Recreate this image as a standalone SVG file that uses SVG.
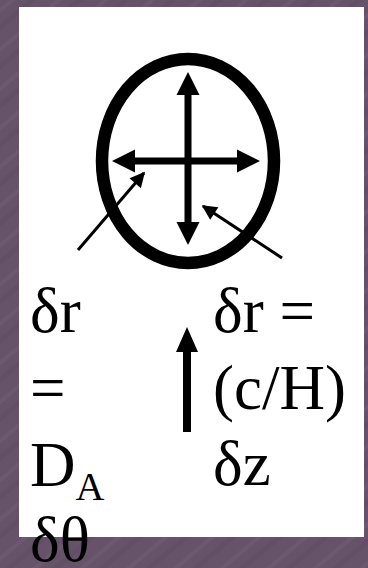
<svg xmlns="http://www.w3.org/2000/svg" width="368" height="568" viewBox="0 0 368 568">
  <defs>
    <style>
      .t { font-family: "Liberation Serif", "Times New Roman", serif; font-size: 63px; fill: #000; }
      .sub { font-size: 40px; }
      .thin { stroke: #000; stroke-width: 3; fill: none; marker-end: url(#head); }
    </style>
    <marker id="head" viewBox="0 0 10 10" refX="9" refY="5" markerWidth="5.5" markerHeight="5" orient="auto" markerUnits="strokeWidth">
      <path d="M0,0 L10,5 L0,10 Z" fill="#000"/>
    </marker>
    <pattern id="bgp" width="30" height="30" patternUnits="userSpaceOnUse" patternTransform="rotate(-40)">
      <rect width="30" height="30" fill="#665269"/>
      <line x1="0" y1="8" x2="30" y2="8" stroke="#76627a" stroke-width="4" opacity="0.35"/>
      <line x1="0" y1="21" x2="30" y2="21" stroke="#5a465d" stroke-width="5" opacity="0.35"/>
    </pattern>
  </defs>
  <rect x="0" y="0" width="368" height="568" fill="url(#bgp)"/>
  <rect id="panel" x="19" y="7" width="345" height="530" fill="#fff"/>

  <g id="ellipse">
    <ellipse cx="188" cy="161" rx="86" ry="102" fill="none" stroke="#000" stroke-width="12.5"/>
  </g>

  <g id="connectors">
    <polygon points="188,72 176.5,95 184.5,95 184.5,222 176.5,222 188,245 199.5,222 191.5,222 191.5,95 199.5,95" fill="#000"/>
    <polygon points="112,161 135,149.5 135,157.5 237,157.5 237,149.5 260,161 237,172.5 237,164.5 135,164.5 135,172.5" fill="#000"/>
    <line class="thin" x1="78" y1="250" x2="144" y2="173"/>
    <line class="thin" x1="282" y1="258" x2="203" y2="206"/>
    <polygon points="187,327 176,352 183,352 183,432 191,432 191,352 198,352" fill="#000"/>
  </g>

  <g id="left-label">
    <text class="t" x="30" y="332">δr</text>
    <text class="t" x="30" y="409">=</text>
    <text class="t" x="30" y="486">D<tspan class="sub" dy="14">A</tspan></text>
    <text class="t" x="30" y="561">δθ</text>
  </g>

  <g id="right-label">
    <text class="t" x="213" y="332">δr =</text>
    <text class="t" x="213" y="409">(c/H)</text>
    <text class="t" x="213" y="485">δz</text>
  </g>
</svg>
